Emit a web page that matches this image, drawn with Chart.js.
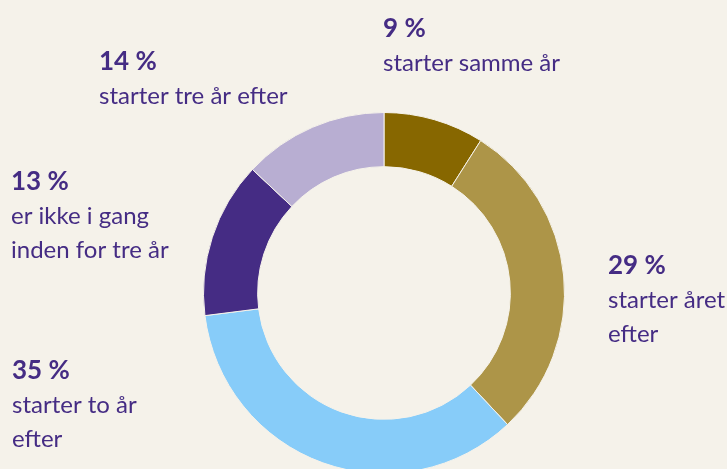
<!DOCTYPE html>
<html>
<head>
<meta charset="utf-8">
<script src="https://cdn.jsdelivr.net/npm/chart.js@4.4.1/dist/chart.umd.min.js"></script>
<style>
  html, body { margin: 0; padding: 0; background: #F5F2EA; overflow: hidden; }
  #wrap { position: relative; width: 727px; height: 480px; }
</style>
</head>
<body>
<div id="wrap"><canvas id="donut"></canvas></div>
<script>
// data
const categories = ['starter samme år', 'starter året efter', 'starter to år efter', 'er ikke i gang inden for tre år', 'starter tre år efter'];
// slice sizes as drawn in the picture
const sliceValues = [9, 29, 35, 14, 13];
// percentages as printed next to the ring
const pctLabels = ['9 %', '29 %', '35 %', '13 %', '14 %'];
const labelLines = [
    ['starter samme år'],
    ['starter året', 'efter'],
    ['starter to år', 'efter'],
    ['er ikke i gang', 'inden for tre år'],
    ['starter tre år efter']
];
const sliceColors = ['#876700', '#AD9548', '#87CCF9', '#452C84', '#B8AED2'];

// where each text block starts (x, baseline of the percentage)
const labelAnchors = [[383, 37], [608, 274], [12, 379], [11, 190], [99, 70]];

const textColor = '#452C84';

// draws the text blocks next to the ring
const labelPlugin = {
    id: 'sideLabels',
    afterDraw(chart) {
        const ctx = chart.ctx;
        ctx.save();
        ctx.fillStyle = textColor;
        ctx.textAlign = 'left';
        ctx.textBaseline = 'alphabetic';
        pctLabels.forEach((pct, i) => {
            const [x, y] = labelAnchors[i];
            ctx.font = 'bold 26px Lato';
            ctx.fillText(pct, x, y);
            ctx.font = '24px Lato';
            labelLines[i].forEach((line, j) => {
                ctx.fillText(line, x, y + 34 * (j + 1));
            });
        });
        ctx.restore();
    }
};

const donutChart = new Chart(document.getElementById('donut'), {
    type: 'doughnut',
    data: {
        labels: categories,
        datasets: [{
            data: sliceValues,
            backgroundColor: sliceColors,
            borderColor: '#F5F2EA',
            borderWidth: 1
        }]
    },
    options: {
        responsive: true,
        maintainAspectRatio: false,
        animation: false,
        cutout: '70%',
        layout: { padding: { top: 112, bottom: 6, left: 203, right: 162 } },
        plugins: {
            legend: { display: false },
            tooltip: { enabled: false }
        }
    },
    plugins: [labelPlugin]
});
</script>
</body>
</html>
